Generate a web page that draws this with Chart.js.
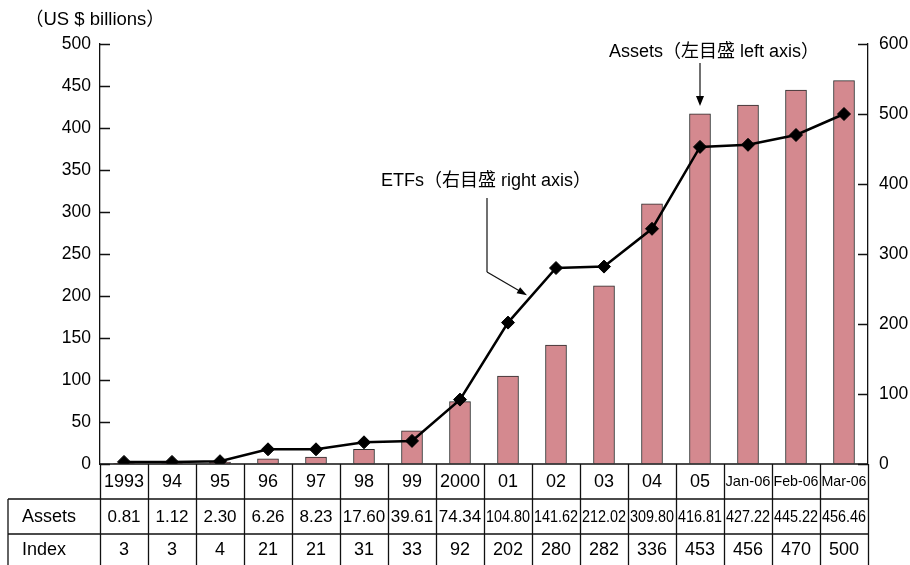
<!DOCTYPE html>
<html>
<head>
<meta charset="utf-8">
<script src="https://cdn.jsdelivr.net/npm/chart.js@4.4.1/dist/chart.umd.min.js"></script>
<style>
html,body{margin:0;padding:0;background:#fff;}
canvas{display:block;}
</style>
</head>
<body>
<canvas id="c" width="910" height="565"></canvas>
<script>
const categories = ['1993','94','95','96','97','98','99','2000','01','02','03','04','05','Jan-06','Feb-06','Mar-06'];
const assets = [0.81,1.12,2.30,6.26,8.23,17.60,39.61,74.34,104.80,141.62,212.02,309.80,416.81,427.22,445.22,456.46];
const assetLabels = ['0.81','1.12','2.30','6.26','8.23','17.60','39.61','74.34','104.80','141.62','212.02','309.80','416.81','427.22','445.22','456.46'];
const indexValues = [3,3,4,21,21,31,33,92,202,280,282,336,453,456,470,500];
const leftTicks = [0,50,100,150,200,250,300,350,400,450,500];
const rightTicks = [0,100,200,300,400,500,600];
const rowNames = ['Assets','Index'];
const unitLabel = '（US $ billions）';
const assetsNote = 'Assets（左目盛 left axis）';
const etfNote = 'ETFs（右目盛 right axis）';

const FONT = '"Liberation Sans", Arial, "Noto Sans CJK JP", sans-serif';
const BAR = '#D4898F';

function arrow(ctx, x0, y0, x1, y1, len, half) {
  const a = Math.atan2(y1 - y0, x1 - x0);
  ctx.beginPath();
  ctx.moveTo(x0, y0);
  ctx.lineTo(x1 - Math.cos(a) * len * 0.8, y1 - Math.sin(a) * len * 0.8);
  ctx.stroke();
  ctx.beginPath();
  ctx.moveTo(x1, y1);
  ctx.lineTo(x1 - Math.cos(a) * len - Math.sin(a) * half, y1 - Math.sin(a) * len + Math.cos(a) * half);
  ctx.lineTo(x1 - Math.cos(a) * len + Math.sin(a) * half, y1 - Math.sin(a) * len - Math.cos(a) * half);
  ctx.closePath();
  ctx.fill();
}

const tablePlugin = {
  id: 'tablePlugin',
  afterDraw(chart) {
    const ctx = chart.ctx;
    const xs = chart.scales.x, yl = chart.scales.y, yr = chart.scales.y1;
    const area = chart.chartArea;
    const L = area.left, R = area.right, B = area.bottom;
    const n = categories.length;
    const colW = (R - L) / n;
    const rowTop = [B, B + 35, B + 70];
    const H = chart.height;
    ctx.save();
    ctx.strokeStyle = '#111';
    ctx.fillStyle = '#000';
    ctx.lineWidth = 1.3;
    // inward ticks
    ctx.beginPath();
    leftTicks.forEach(v => { const y = Math.round(yl.getPixelForValue(v)) + 0.5; ctx.moveTo(L, y); ctx.lineTo(L + 10, y); });
    rightTicks.forEach(v => { const y = Math.round(yr.getPixelForValue(v)) + 0.5; ctx.moveTo(R - 10, y); ctx.lineTo(R, y); });
    ctx.stroke();
    // table lines
    ctx.beginPath();
    ctx.moveTo(L, rowTop[0]); ctx.lineTo(R, rowTop[0]);
    ctx.moveTo(8, rowTop[1]); ctx.lineTo(R, rowTop[1]);
    ctx.moveTo(8, rowTop[2]); ctx.lineTo(R, rowTop[2]);
    ctx.moveTo(8, rowTop[1]); ctx.lineTo(8, H);
    for (let i = 0; i <= n; i++) {
      const x = Math.round(L + i * colW) + 0.5;
      ctx.moveTo(x, rowTop[0]); ctx.lineTo(x, H);
    }
    ctx.stroke();
    // texts
    ctx.textBaseline = 'middle';
    ctx.textAlign = 'center';
    for (let i = 0; i < n; i++) {
      const cx = xs.getPixelForValue(i);
      const lab = categories[i];
      ctx.font = (lab.length > 4 ? '15px ' : '18px ') + FONT;
      ctx.fillText(lab, cx, rowTop[0] + 18, colW - 3);
      ctx.font = '17px ' + FONT;
      ctx.fillText(assetLabels[i], cx, rowTop[1] + 18, colW - 4);
      ctx.font = '18px ' + FONT;
      ctx.fillText(String(indexValues[i]), cx, rowTop[2] + 16, colW - 4);
    }
    ctx.textAlign = 'left';
    ctx.font = '18px ' + FONT;
    ctx.fillText(rowNames[0], 22, rowTop[1] + 18);
    ctx.fillText(rowNames[1], 22, rowTop[2] + 16);
    // unit label
    ctx.font = '18.5px ' + FONT;
    ctx.fillText(unitLabel, 25, 20);
    // Assets annotation
    const ax = xs.getPixelForValue(12);
    const barTop = yl.getPixelForValue(assets[12]);
    ctx.textAlign = 'center';
    ctx.font = '18px ' + FONT;
    ctx.fillText(assetsNote, ax + 14, 52);
    ctx.lineWidth = 1.2;
    arrow(ctx, ax, 63, ax, barTop - 8, 10, 4);
    // ETFs annotation
    const ex = (xs.getPixelForValue(8) + xs.getPixelForValue(9)) / 2;
    const ey = (yr.getPixelForValue(indexValues[8]) + yr.getPixelForValue(indexValues[9])) / 2;
    ctx.fillText(etfNote, ex - 46, 181);
    ctx.beginPath();
    ctx.moveTo(ex - 45, 198); ctx.lineTo(ex - 45, 272); ctx.stroke();
    arrow(ctx, ex - 45, 272, ex - 5, ey - 0, 10, 3.5);
    ctx.restore();
  }
};

const tickFont = { family: FONT, size: 17.5 };
new Chart(document.getElementById('c'), {
  data: {
    labels: categories,
    datasets: [
      { type: 'line', label: 'Index', data: indexValues, yAxisID: 'y1', order: 0,
        borderColor: '#000', borderWidth: 2.5, tension: 0,
        pointStyle: 'rectRot', pointRadius: 6.5, pointBackgroundColor: '#000', pointBorderColor: '#000', pointBorderWidth: 1 },
      { type: 'bar', label: 'Assets', data: assets, yAxisID: 'y', order: 1,
        backgroundColor: BAR, borderColor: '#2a2a2a', borderWidth: 1, barThickness: 21 }
    ]
  },
  options: {
    responsive: false, animation: false, events: [],
    layout: { padding: { top: 44, bottom: 101, left: 0, right: 0 } },
    plugins: { legend: { display: false }, tooltip: { enabled: false } },
    scales: {
      x: { display: false, offset: true },
      y: { position: 'left', min: 0, max: 500,
        ticks: { stepSize: 50, padding: 9, font: tickFont, color: '#000' },
        grid: { drawOnChartArea: false, drawTicks: false },
        border: { display: true, color: '#111', width: 1.3 },
        afterFit(s) { s.width = 100; } },
      y1: { position: 'right', min: 0, max: 600,
        ticks: { stepSize: 100, padding: 11, font: tickFont, color: '#000' },
        grid: { drawOnChartArea: false, drawTicks: false },
        border: { display: true, color: '#111', width: 1.3 },
        afterFit(s) { s.width = 42; } }
    }
  },
  plugins: [tablePlugin]
});
</script>
</body>
</html>
